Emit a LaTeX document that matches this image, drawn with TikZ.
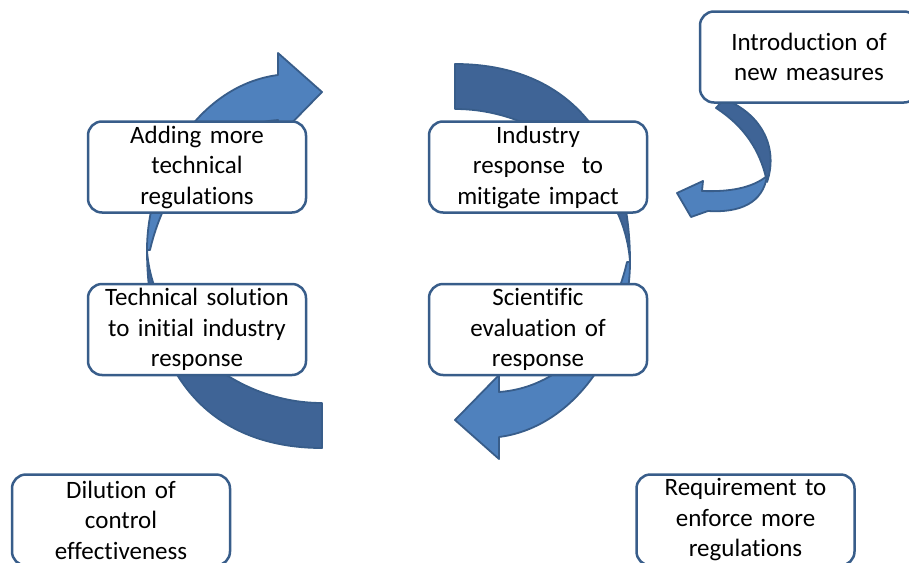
\documentclass[tikz,border=0pt]{standalone}
\usepackage{fontspec}
\setmainfont{Carlito}[Ligatures={NoCommon}]
\definecolor{lightblue}{HTML}{4F81BD}
\definecolor{darkblue}{HTML}{3F6496}
\definecolor{edgeblue}{HTML}{385D8A}
\begin{document}
\begin{tikzpicture}[x=1pt,y=-1pt,
  box/.style={draw=edgeblue, line width=2.5pt, fill=white, rounded corners=14pt,
    minimum width=218pt, minimum height=91pt, text width=212pt, align=center,
    inner sep=0pt, font=\fontsize{25}{30.5}\selectfont},
  lightpart/.style={fill=lightblue, draw=edgeblue, line width=1.8pt, line join=round},
  darkpart/.style={fill=darkblue, draw=edgeblue, line width=1.8pt, line join=round}]
\useasboundingbox (0,0) rectangle (909,562);
\clip (0,0) rectangle (909,562);
% left circular arrow
\draw[darkpart] (322,403) -- (322,448) .. controls (215,448) and (147,380) .. (147,250)
  .. controls (152,330) and (230,403) .. (322,403) -- cycle;
\draw[lightpart] (147,250) .. controls (147,170) and (200,85) .. (278,75) -- (278,53)
  -- (322,92) -- (278,137) -- (278,120) .. controls (210,125) and (165,185) .. (150,250) -- cycle;
% right circular arrow (point reflection)
\begin{scope}[rotate around={180:(388.5,256)}]
\draw[darkpart] (322,403) -- (322,448) .. controls (215,448) and (147,380) .. (147,250)
  .. controls (152,330) and (230,403) .. (322,403) -- cycle;
\draw[lightpart] (147,250) .. controls (147,170) and (200,85) .. (278,75) -- (278,53)
  -- (322,92) -- (278,137) -- (278,120) .. controls (210,125) and (165,185) .. (150,250) -- cycle;
\end{scope}
% small arrow from introduction box
\draw[darkpart] (716,108) -- (724,99) .. controls (764,115) and (778,150) .. (767,182)
  .. controls (762,158) and (750,130) .. (716,108) -- cycle;
\draw[lightpart] (767,176) .. controls (763,203) and (740,213) .. (708,211) -- (691,217)
  -- (677,193) -- (703,181) -- (702,191) .. controls (730,192) and (752,188) .. (767,176) -- cycle;
% boxes
\node[box] (adding) at (197,167) {Adding more\\technical\\regulations};
\node[box] (techsol) at (197,329.5) {Technical solution\\to initial industry\\response};
\node[box] (industry) at (538,167) {Industry\\response\ \ to\\mitigate impact};
\node[box] (scientific) at (538,329.5) {Scientific\\evaluation of\\response};
\node[box] (intro) at (809,57) {Introduction of\\new measures};
\node[box] (dilution) at (121,520) {Dilution of\\control\\effectiveness};
\node[box] (require) at (745.5,520) {Requirement to\\enforce more\\regulations};
\end{tikzpicture}
\end{document}
